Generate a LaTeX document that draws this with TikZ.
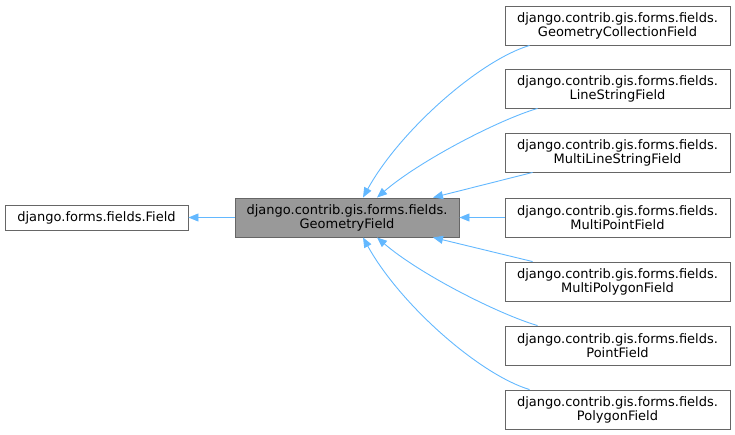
\documentclass[tikz,border=0pt]{standalone}
\usepackage{fontspec}
\setmainfont{DejaVu Sans}
\definecolor{edgeblue}{RGB}{99,184,255}
\definecolor{boxline}{RGB}{102,102,102}
\definecolor{basefill}{RGB}{153,153,153}
\usetikzlibrary{arrows.meta,calc}

\begin{document}
\begin{tikzpicture}[x=1pt, y=-1pt,
    cls/.style={draw=boxline, fill=white, line width=0.9pt, align=center, inner sep=0pt,
      font=\fontsize{13}{14}\selectfont, minimum width=225pt, minimum height=39pt},
    edge/.style={edgeblue, line width=0.9pt, -{Triangle[length=10pt, width=8pt]}}]
  \useasboundingbox (0,0) rectangle (735,435);
  % base and the class itself
  \node[cls, minimum width=183pt, minimum height=25pt] (field) at (96.5,217.5) {django.forms.fields.Field};
  \node[cls, fill=basefill, minimum width=224pt] (geo) at (347,217.5) {django.contrib.gis.forms.fields.\\GeometryField};
  % derived classes
  \node[cls] (gcoll) at (617.5,25.5) {django.contrib.gis.forms.fields.\\GeometryCollectionField};
  \node[cls] (lstr) at (617.5,88.5) {django.contrib.gis.forms.fields.\\LineStringField};
  \node[cls] (mlstr) at (617.5,152.5) {django.contrib.gis.forms.fields.\\MultiLineStringField};
  \node[cls] (mpt) at (617.5,217.5) {django.contrib.gis.forms.fields.\\MultiPointField};
  \node[cls] (mpoly) at (617.5,281.5) {django.contrib.gis.forms.fields.\\MultiPolygonField};
  \node[cls] (pt) at (617.5,345.5) {django.contrib.gis.forms.fields.\\PointField};
  \node[cls] (poly) at (617.5,409.5) {django.contrib.gis.forms.fields.\\PolygonField};
  % inheritance arrows
  \draw[edge] (geo.west) -- (field.east);
  \draw[edge] ($(gcoll.south west)+(25,0)$) .. controls +(-50,15) and +(37,-67) .. ($(geo.north)+(16,0)$);
  \draw[edge] ($(lstr.south west)+(33,0)$) .. controls +(-38,11) and +(43,-37) .. ($(geo.north)+(30,0)$);
  \draw[edge] ($(mlstr.south west)+(28,0)$) -- ($(geo.north)+(86,0)$);
  \draw[edge] (mpt.west) -- (geo.east);
  \draw[edge] ($(mpoly.north west)+(28,0)$) -- ($(geo.south)+(86,0)$);
  \draw[edge] ($(pt.north west)+(33,0)$) .. controls +(-38,-11) and +(43,37) .. ($(geo.south)+(30,0)$);
  \draw[edge] ($(poly.north west)+(25,0)$) .. controls +(-50,-15) and +(37,67) .. ($(geo.south)+(16,0)$);
\end{tikzpicture}
\end{document}
